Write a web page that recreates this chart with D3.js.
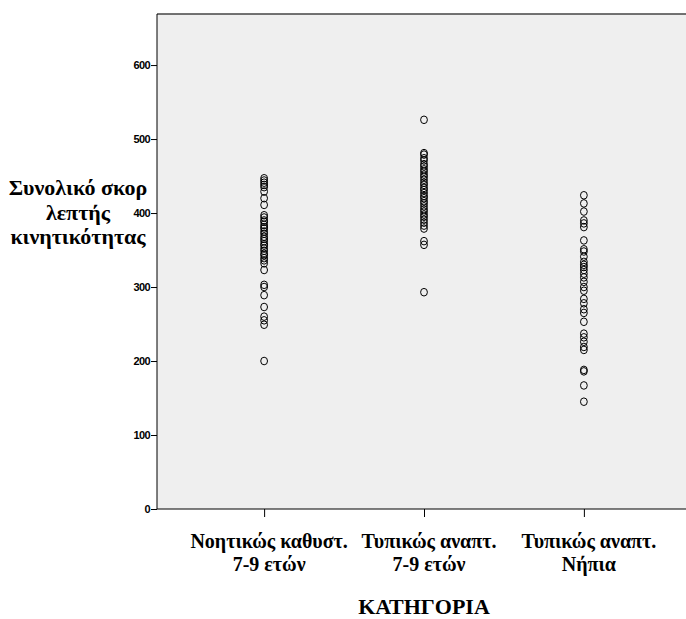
<!DOCTYPE html>
<html>
<head>
<meta charset="utf-8">
<script src="https://cdn.jsdelivr.net/npm/d3@7"></script>
<style>
  body { margin: 0; background: #fff; }
  .tick text { font-family: "Liberation Sans", Arial, sans-serif; font-weight: bold; font-size: 11px; letter-spacing: -0.6px; }
  .lbl { font-family: "Liberation Serif", "Times New Roman", serif; font-weight: bold; }
</style>
</head>
<body>
<div class="chart"></div>
<script>
// Categories (each label split over two lines)
const categories = ['g1', 'g2', 'g3'];
const categoryLabels = [
  ['Νοητικώς καθυστ.', '7-9 ετών'],
  ['Τυπικώς αναπτ.', '7-9 ετών'],
  ['Τυπικώς αναπτ.', 'Νήπια']
];

// Scores, one list per category
const scoresGroup1 = [447, 444, 441, 438, 435, 429, 420, 411, 397, 394, 390, 388, 384, 381, 379, 375, 372, 368, 365, 362, 358, 356, 352, 349, 345, 343, 339, 336, 332, 323, 303, 300, 289, 273, 260, 255, 249, 200];
const scoresGroup2 = [526, 481, 479, 474, 471, 466, 463, 459, 456, 452, 449, 445, 441, 438, 434, 431, 427, 423, 420, 416, 413, 409, 405, 402, 398, 395, 391, 387, 383, 379, 362, 357, 293];
const scoresGroup3 = [424, 413, 402, 390, 386, 381, 363, 351, 348, 341, 334, 330, 327, 323, 318, 313, 307, 300, 295, 284, 278, 270, 265, 253, 237, 232, 226, 219, 215, 188, 186, 167, 145];

const yTicks = [0, 100, 200, 300, 400, 500, 600];
const yTitle = ['Συνολικό σκορ', 'λεπτής', 'κινητικότητας'];
const xTitle = 'ΚΑΤΗΓΟΡΙΑ';

const margin = {top: 14, left: 157};
const width = 534;
const height = 495;

const x = d3.scalePoint()
    .domain(categories)
    .range([0, width])
    .padding(0.67);

const y = d3.scaleLinear()
    .domain([0, 669])
    .range([height, 0]);

const svg = d3.select('.chart').append('svg')
    .attr('width', 686)
    .attr('height', 619);

const g = svg.append('g')
    .attr('transform', `translate(${margin.left},${margin.top})`);

// plot background
g.append('rect')
    .attr('width', width)
    .attr('height', height)
    .attr('fill', '#efefef');

g.append('line')
    .attr('x1', 0).attr('x2', width)
    .attr('y1', 0).attr('y2', 0)
    .attr('stroke', '#444')
    .attr('stroke-width', 1.5);

// y axis
const yAxis = g.append('g')
    .call(d3.axisLeft(y).tickValues(yTicks).tickSize(6).tickPadding(1));
yAxis.select('.domain').attr('stroke', '#000').attr('d', `M0,0V${height}`);

// x axis
const xAxis = g.append('g')
    .attr('transform', `translate(0,${height})`)
    .call(d3.axisBottom(x).tickSize(8).tickFormat(''));
xAxis.select('.domain').attr('d', `M0,0H${width}`).attr('stroke', '#000');

// points
const groups = [scoresGroup1, scoresGroup2, scoresGroup3];
groups.forEach((vals, i) => {
  g.selectAll(null)
    .data(vals)
    .enter()
    .append('ellipse')
      .attr('cx', x(categories[i]))
      .attr('cy', d => y(d))
      .attr('rx', 3.4)
      .attr('ry', 3.8)
      .attr('fill', 'none')
      .attr('stroke', '#000')
      .attr('stroke-width', 1);
});

// category labels, sitting a little right of their ticks like the original
categories.forEach((c, i) => {
  const cx = x(c) + 5;
  const t = g.append('text')
      .attr('class', 'lbl')
      .attr('text-anchor', 'middle')
      .attr('font-size', '20px')
      .attr('y', height + 39);
  categoryLabels[i].forEach((line, j) => {
    t.append('tspan')
        .attr('x', cx)
        .attr('dy', j === 0 ? 0 : 23)
        .text(line);
  });
});

// axis titles
const yt = svg.append('text')
    .attr('class', 'lbl')
    .attr('text-anchor', 'middle')
    .attr('font-size', '22px')
    .attr('y', 195);
yTitle.forEach((line, j) => {
  yt.append('tspan')
      .attr('x', 78)
      .attr('dy', j === 0 ? 0 : 24.5)
      .text(line);
});

svg.append('text')
    .attr('class', 'lbl')
    .attr('text-anchor', 'middle')
    .attr('font-size', '22px')
    .attr('x', margin.left + x('g2'))
    .attr('y', 614)
    .text(xTitle);
</script>
</body>
</html>
